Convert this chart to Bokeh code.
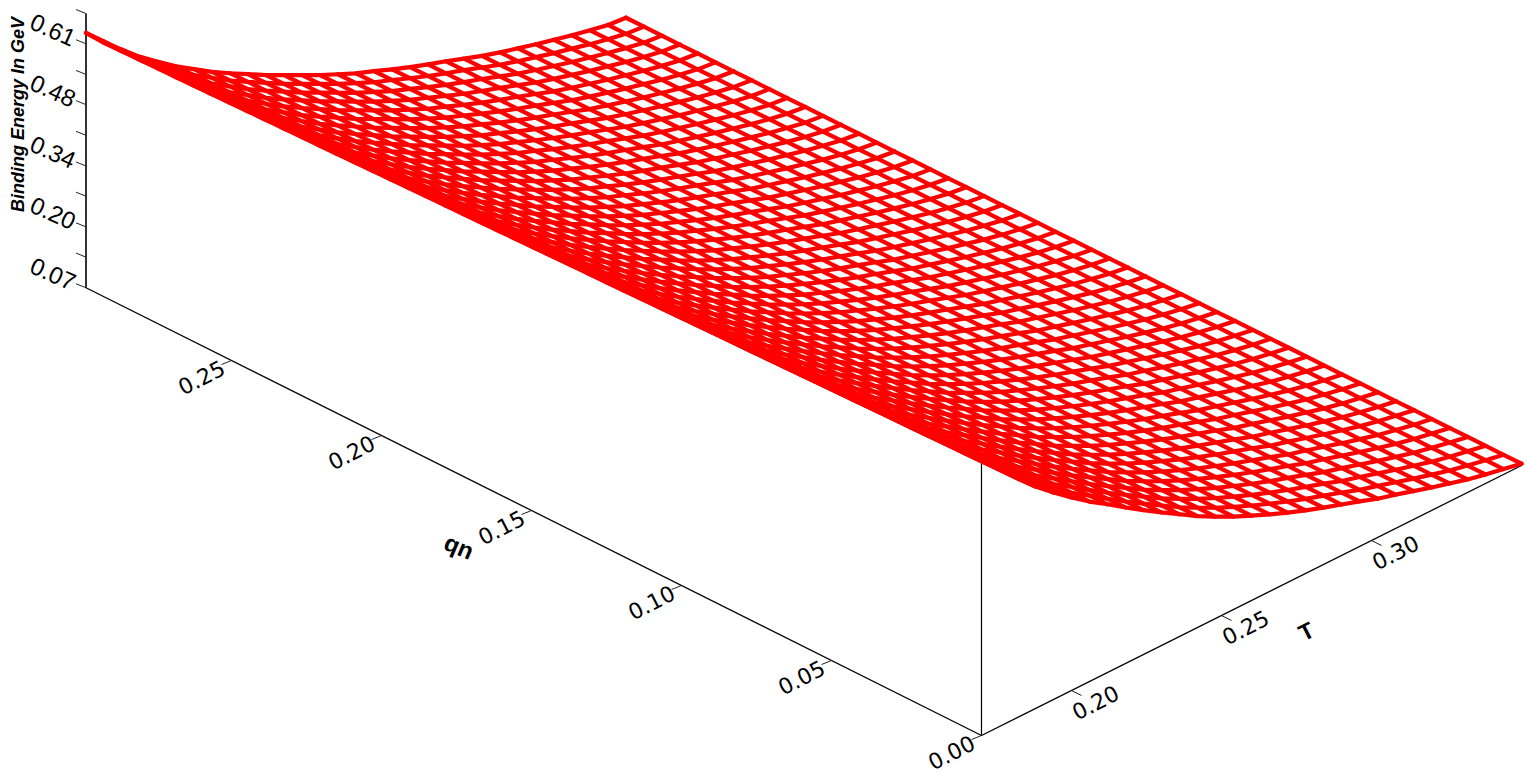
from bokeh.plotting import figure
from bokeh.models import Range1d
from bokeh.core.properties import value
from bokeh.embed import file_html
from bokeh.resources import INLINE

# --- data ----------------------------------------------------------------
T_grid = [0.170 + 0.006 * i for i in range(31)]      # mesh lines along T
u_grid = [0.00597 * i for i in range(51)]            # mesh lines along ub

# Binding energy along the two visible edges of the surface, read per T line
z_at_u0 = [0.680, 0.640, 0.600, 0.562, 0.529, 0.498, 0.469, 0.443, 0.416, 0.390, 0.365,
           0.341, 0.317, 0.296, 0.276, 0.258, 0.241, 0.225, 0.210, 0.196, 0.183,
           0.170, 0.156, 0.145, 0.133, 0.121, 0.110, 0.099, 0.090, 0.082, 0.074]
z_at_umax = [0.635, 0.593, 0.558, 0.522, 0.491, 0.461, 0.435, 0.409, 0.386, 0.364, 0.342,
             0.322, 0.302, 0.282, 0.264, 0.246, 0.231, 0.215, 0.200, 0.186, 0.173,
             0.159, 0.145, 0.133, 0.122, 0.111, 0.101, 0.091, 0.082, 0.074, 0.070]
# NOTE: interior mesh lines cannot be read individually in the dense picture;
# they are estimated by blending the two read edge profiles across u.

u_ticks = [0.00, 0.05, 0.10, 0.15, 0.20, 0.25]
u_tick_labels = ["0.00", "0.05", "0.10", "0.15", "0.20", "0.25"]
T_ticks = [0.20, 0.25, 0.30]
T_tick_labels = ["0.20", "0.25", "0.30"]
z_ticks = [0.07, 0.138, 0.205, 0.273, 0.340, 0.408, 0.476, 0.543, 0.611, 0.678]
z_label_ticks = [0.07, 0.205, 0.340, 0.476, 0.611]
z_tick_labels = ["0.07", "0.20", "0.34", "0.48", "0.61"]

# --- projection of the 3-D box on to the page -----------------------------
T0, Z0 = 0.17, 0.07
def px(T, u):
    return 981 + 3000 * (T - T0) - 3000 * u
def py(T, u, z):
    return 735 - 1500 * (T - T0) - 1500 * u - 451 * (z - Z0)

umax = u_grid[-1]
def surf(i, j):
    w = u_grid[j] / umax
    return z_at_u0[i] + (z_at_umax[i] - z_at_u0[i]) * w

p = figure(width=1527, height=774, x_range=Range1d(0, 1527), y_range=Range1d(774, 0),
           output_backend="svg", toolbar_location=None, min_border=0,
           outline_line_color=None, background_fill_color="white")
p.axis.visible = False
p.grid.visible = False

# box edges
T1 = T_grid[-1]
zt = z_ticks[-1]
p.line([px(T0, umax), px(T0, 0), px(T1, 0)],
       [py(T0, umax, Z0), py(T0, 0, Z0), py(T1, 0, Z0)], line_color="black", line_width=1.3)
p.line([px(T0, 0), px(T0, 0)], [py(T0, 0, Z0), py(T0, 0, zt)], line_color="black", line_width=1.2)
p.line([px(T0, umax), px(T0, umax)], [py(T0, umax, Z0), py(T0, umax, zt)], line_color="black", line_width=1.6)

# ticks
for u in u_ticks:
    x, y = px(T0, u), py(T0, u, Z0)
    p.line([x, x - 10], [y, y + 4], line_color="#222222", line_width=1)
for T in T_ticks:
    x, y = px(T, 0), py(T, 0, Z0)
    p.line([x, x + 10], [y, y + 5], line_color="#222222", line_width=1)
for z in z_ticks:
    x, y = px(T0, umax), py(T0, umax, z)
    p.line([x, x - 10], [y, y - 4], line_color="#222222", line_width=1)

# wire mesh
xs, ys = [], []
for j in range(len(u_grid)):
    xs.append([px(T_grid[i], u_grid[j]) for i in range(len(T_grid))])
    ys.append([py(T_grid[i], u_grid[j], surf(i, j)) for i in range(len(T_grid))])
for i in range(len(T_grid)):
    xs.append([px(T_grid[i], u_grid[j]) for j in range(len(u_grid))])
    ys.append([py(T_grid[i], u_grid[j], surf(i, j)) for j in range(len(u_grid))])
p.multi_line(xs, ys, line_color="#ff0000", line_width=4.2, line_join="round", line_cap="round")

# tick labels
tick_style = dict(text_font=value("DejaVu Sans"), text_font_size="22px", text_color="black",
                  text_align="center", text_baseline="middle", angle_units="deg")
p.text([px(T0, u) - 30 for u in u_ticks], [py(T0, u, Z0) + 17 for u in u_ticks],
       text=u_tick_labels, angle=27, **tick_style)
p.text([px(T, 0) + 24 for T in T_ticks], [py(T, 0, Z0) + 12 for T in T_ticks],
       text=T_tick_labels, angle=27, **tick_style)
p.text([px(T0, umax) - 33 for z in z_label_ticks], [py(T0, umax, z) - 14 for z in z_label_ticks],
       text=z_tick_labels, angle=-24, text_font=value("Liberation Sans"), text_font_size="24px",
       text_color="black", text_align="center", text_baseline="middle", angle_units="deg")

# axis titles
p.text([17], [114], text=["Binding Energy In GeV"], angle=90, angle_units="deg",
       text_font=value("Liberation Sans"), text_font_style="bold italic", text_font_size="18px",
       text_color="black", text_align="center", text_baseline="middle")
p.text([457], [550], text=["ub"], angle=157, angle_units="deg",
       text_font=value("Liberation Sans"), text_font_style="bold", text_font_size="24px",
       text_color="black", text_align="center", text_baseline="middle")
p.text([1306], [631], text=["T"], angle=27, angle_units="deg",
       text_font=value("Liberation Sans"), text_font_style="bold", text_font_size="23px",
       text_color="black", text_align="center", text_baseline="middle")

open("out.html", "w").write(file_html(p, INLINE))
